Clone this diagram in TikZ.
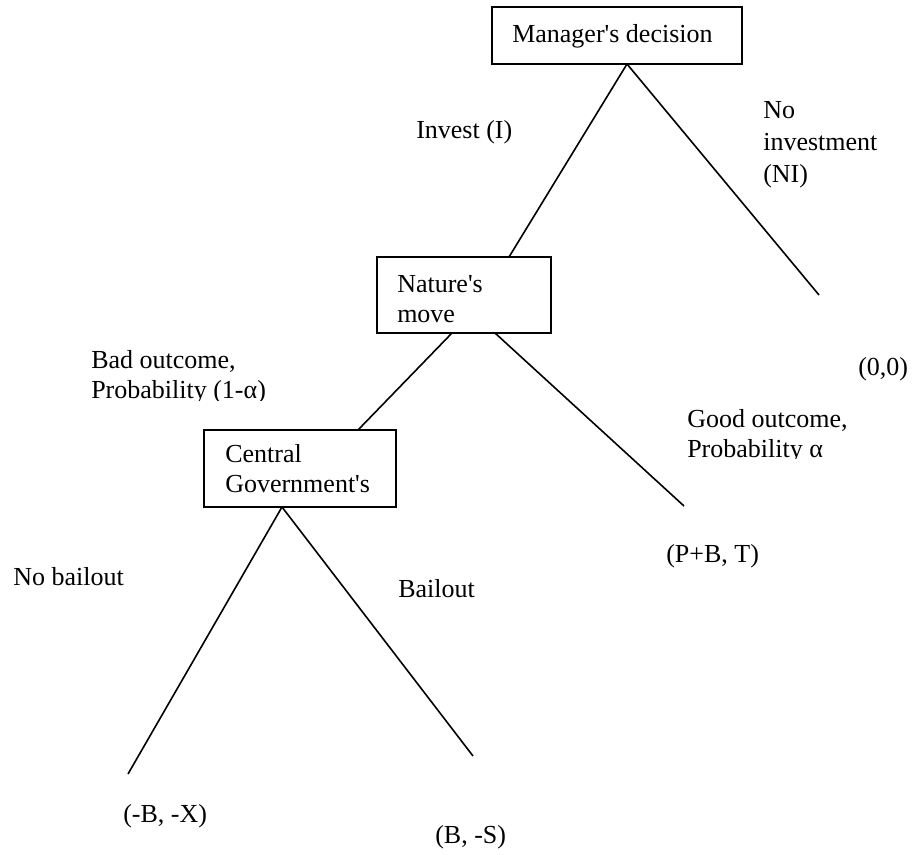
\documentclass[tikz,border=0pt]{standalone}
\usepackage{fontspec}
\setmainfont{Liberation Serif}
\newcommand{\ap}{\textquotesingle}
\begin{document}
\begin{tikzpicture}[x=0.75pt,y=-0.75pt,
  box/.style={draw, line width=0.8pt, inner sep=0pt},
  txt/.style={inner sep=0pt, anchor=base west, align=left, font=\fontsize{19.5}{22.5}\selectfont},
  edge/.style={line width=1.2pt}]
\useasboundingbox (0,0) rectangle (914,854);
% boxes
\node[box, minimum width=250*0.75pt, minimum height=57*0.75pt] (mgr) at (617,35.5) {};
\node[box, minimum width=174*0.75pt, minimum height=76*0.75pt] (nat) at (464,295) {};
\node[box, minimum width=192*0.75pt, minimum height=77*0.75pt] (gov) at (300,468.5) {};
\node[txt] (mgrt) at (512,42) {Manager\ap s decision};
\node[txt] (natt) at (397,322) {Nature\ap s\\move};
\node[txt] (govt) at (225,492) {Central\\Government\ap s};
% end points
\coordinate (zero) at (819,295);
\coordinate (good) at (684,506);
\coordinate (nob) at (128,774);
\coordinate (bail) at (473,756);
% edges
\draw[edge] (627,64) coordinate (mgrb) -- (509,257) coordinate (natt0);
\draw[edge] (mgrb) -- (zero);
\draw[edge] (452,333) coordinate (natb1) -- (358,430) coordinate (govt0);
\draw[edge] (495,333) coordinate (natb2) -- (good);
\draw[edge] (282,507) coordinate (govb) -- (nob);
\draw[edge] (govb) -- (bail);
% labels
\node[txt] (inv) at (416,138) {Invest (I)};
\node[txt] (ni) at (763,182) {No\\[1.5pt]investment\\[1.5pt](NI)};
\node[txt] (z) at (858,375) {(0,0)};
\begin{scope}
\clip (80,340) rectangle (320,400);
\node[txt] (bad) at (91,398) {Bad outcome,\\Probability (1-α)};
\end{scope}
\begin{scope}
\clip (680,400) rectangle (910,458);
\node[txt] (goodl) at (687,457) {Good outcome,\\Probability α};
\end{scope}
\node[txt] (pbt) at (666,562) {(P+B, T)};
\node[txt] (nbl) at (13,585) {No bailout};
\node[txt] (bl) at (398,597) {Bailout};
\node[txt] (bx) at (123,822) {(-B, -X)};
\node[txt] (bs) at (435,843) {(B, -S)};
\end{tikzpicture}
\end{document}
